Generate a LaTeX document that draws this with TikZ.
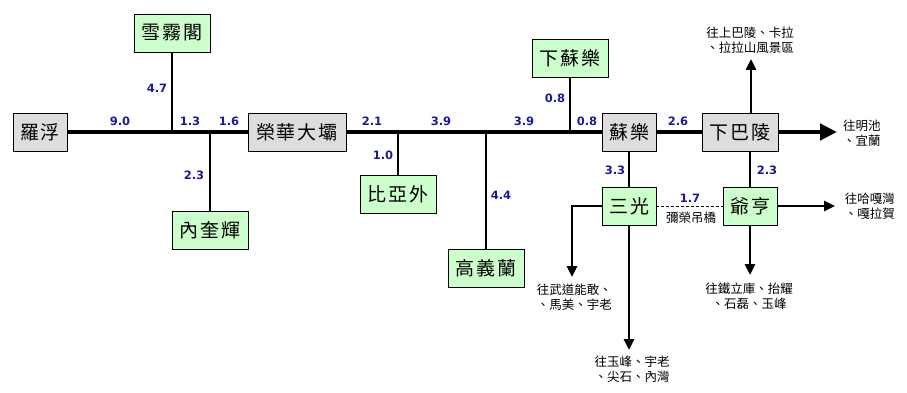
\documentclass[tikz,border=0pt]{standalone}
\usepackage{fontspec}
\newfontfamily\cjk{Noto Sans CJK TC}
\newfontfamily\numfont{DejaVu Sans}
\usetikzlibrary{arrows.meta}
\definecolor{boxgray}{HTML}{DDDDDD}
\definecolor{boxgreen}{HTML}{CCFFCC}
\definecolor{numblue}{HTML}{1A1A99}
\newcommand{\gp}{\hspace{2pt}}
\begin{document}
\begin{tikzpicture}[x=1pt,y=-1pt,
 station/.style={draw=black, line width=0.8pt, minimum height=38pt, inner sep=0pt, font=\cjk\fontsize{19}{19}\selectfont},
 mainst/.style={station, fill=boxgray},
 subst/.style={station, fill=boxgreen},
 mainline/.style={line width=4.5pt},
 branch/.style={line width=2.6pt},
 goarrow/.style={branch, -{Triangle[length=11pt,width=10pt]}},
 bigarrow/.style={mainline, -{Triangle[length=17pt,width=16pt]}},
 dist/.style={font=\numfont\bfseries\fontsize{11.5}{13}\selectfont, text=numblue, inner sep=0pt},
 note/.style={font=\cjk\fontsize{12.5}{15}\selectfont, inner sep=0pt, align=center},
]
\useasboundingbox[fill=white] (0,0) rectangle (907,393);

% stations
\node[mainst, minimum width=54pt] (luofu) at (40,132) {羅\gp 浮};
\node[subst, minimum width=76pt] (xuewu) at (172,33) {雪\gp 霧\gp 閣};
\node[subst, minimum width=76pt] (neikui) at (210,230) {內\gp 奎\gp 輝};
\node[mainst, minimum width=98pt] (ronghua) at (297,132) {榮\gp 華\gp 大\gp 壩};
\node[subst, minimum width=76pt] (biya) at (398,194) {比\gp 亞\gp 外};
\node[subst, minimum width=76pt] (gaoyi) at (486,268) {高\gp 義\gp 蘭};
\node[subst, minimum width=76pt] (xiasule) at (570,58.5) {下\gp 蘇\gp 樂};
\node[mainst, minimum width=54pt] (sule) at (629,132) {蘇\gp 樂};
\node[mainst, minimum width=76pt] (xiabaling) at (740,132) {下\gp 巴\gp 陵};
\node[subst, minimum width=54pt] (sanguang) at (629,206) {三\gp 光};
\node[subst, minimum width=54pt] (yeheng) at (750,206) {爺\gp 亨};

% free ends
\coordinate (shangba) at (751,59);
\coordinate (mingchi) at (837,132);
\coordinate (hagawan) at (835,206);
\coordinate (tieli) at (750,275);
\coordinate (wudao) at (572,277);
\coordinate (yufeng) at (629,350);

% main line
\draw[mainline] (luofu) -- (ronghua);
\draw[mainline] (ronghua) -- (sule);
\draw[mainline] (sule) -- (xiabaling);
\draw[bigarrow] (xiabaling) -- (mingchi);

% branches
\draw[branch] (xuewu) -- (xuewu |- luofu);
\draw[branch] (neikui) -- (neikui |- luofu);
\draw[branch] (biya) -- (biya |- ronghua);
\draw[branch] (gaoyi) -- (gaoyi |- ronghua);
\draw[branch] (xiasule) -- (xiasule |- sule);
\draw[branch] (sule) -- (sanguang);
\draw[branch] (yeheng) -- (yeheng |- xiabaling.south);
\draw[goarrow] (shangba |- xiabaling.north) -- (shangba);
\draw[goarrow] (yeheng) -- (hagawan);
\draw[goarrow] (yeheng) -- (tieli);
\draw[goarrow] (sanguang.west) -| (wudao);
\draw[goarrow] (sanguang) -- (yufeng);
\draw[line width=0.8pt, dash pattern=on 3pt off 2pt] (sanguang) -- (yeheng);

% distances
\node[dist] (d1) at (120,121) {9.0};
\node[dist] (d2) at (157,88) {4.7};
\node[dist] (d3) at (190,121) {1.3};
\node[dist] (d4) at (229,121) {1.6};
\node[dist] (d5) at (194,175) {2.3};
\node[dist] (d6) at (372,121) {2.1};
\node[dist] (d7) at (383,155) {1.0};
\node[dist] (d8) at (441,121) {3.9};
\node[dist] (d9) at (524,121) {3.9};
\node[dist] (d10) at (501,195) {4.4};
\node[dist] (d11) at (555,98) {0.8};
\node[dist] (d12) at (587,121) {0.8};
\node[dist] (d13) at (678,121) {2.6};
\node[dist] (d14) at (615,170) {3.3};
\node[dist] (d15) at (767,170) {2.3};
\node[dist] (d16) at (690,198) {1.7};

% notes
\node[note] (n1) at (750,40.5) {往上巴陵、卡拉\\、拉拉山風景區};
\node[note, anchor=west, align=left] (n2) at (843,133.5) {往明池\\、宜蘭};
\node[note, anchor=east, align=right] (n3) at (895,206) {往哈嘎灣\\、嘎拉賀};
\node[note] (n4) at (749,296.5) {往鐵立庫、抬耀\\、石磊、玉峰};
\node[note, anchor=east, align=right] (n5) at (612,297) {往武道能敢、\\、馬美、宇老};
\node[note] (n6) at (632,369.5) {往玉峰、宇老\\、尖石、內灣};
\node[note] (n7) at (691,218) {彌榮吊橋};
\end{tikzpicture}
\end{document}
